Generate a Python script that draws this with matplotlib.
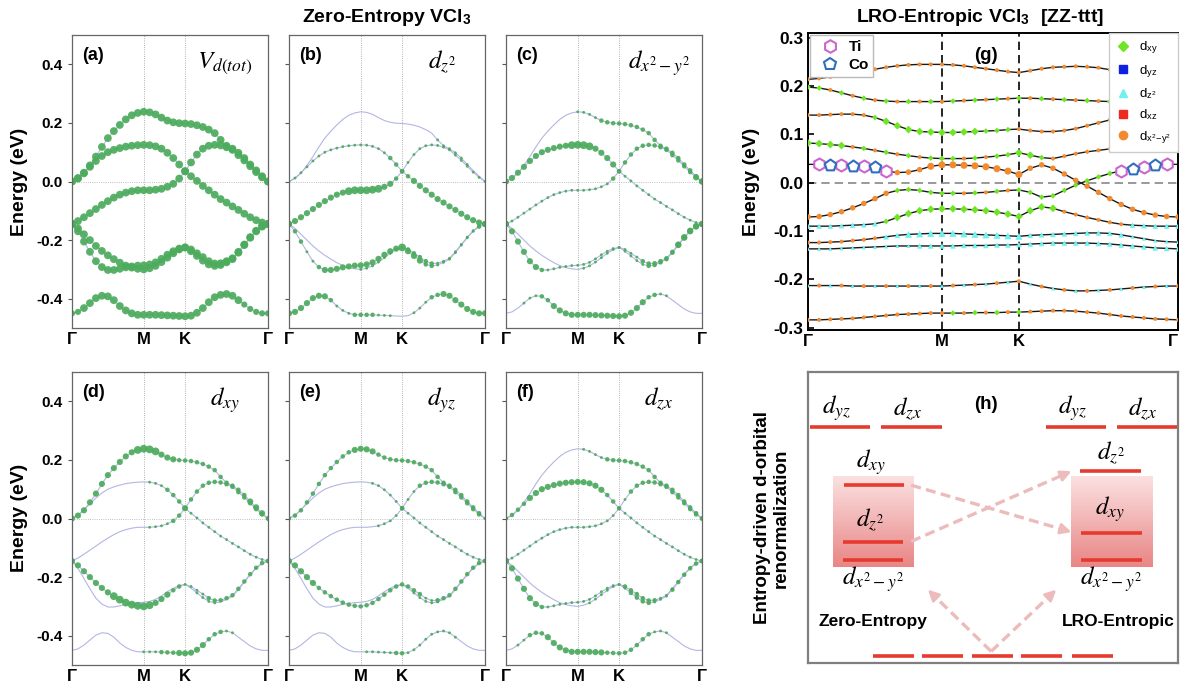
import numpy as np
import matplotlib
matplotlib.use('Agg')
import matplotlib.pyplot as plt
from matplotlib.lines import Line2D
from matplotlib.colors import LinearSegmentedColormap

plt.rcParams['font.family'] = ['Liberation Sans', 'DejaVu Sans']
plt.rcParams['mathtext.fontset'] = 'custom'
plt.rcParams['mathtext.rm'] = 'STIXGeneral'
plt.rcParams['mathtext.it'] = 'STIXGeneral:italic'
plt.rcParams['mathtext.bf'] = 'Liberation Sans:bold'

# ---------------- k path ----------------
K_LABELS = ['Γ', 'M', 'K', 'Γ']
M_POS, K_POS = 0.366, 0.577          # zero-entropy path (Γ-M-K-Γ, hexagonal)
M_POS_G, K_POS_G = 0.362, 0.570      # panel (g)


def kpath(m, kk):
    return np.concatenate([np.linspace(0, m, 13),
                           np.linspace(m, kk, 8)[1:],
                           np.linspace(kk, 1, 15)[1:]])


# ---------------- zero-entropy bands (eV), 13 Γ-M | 7 M-K | 14 K-Γ ----------------
band1 = [0.0, .010, .028, .055, .085, .118, .148, .172, .193, .212, .226, .234, .238,
         .236, .229, .218, .208, .202, .199, .198,
         .196, .192, .186, .177, .165, .142, .122, .112, .098, .080, .058, .038, .018, 0.0]
band2 = [0.0, .012, .030, .050, .070, .087, .100, .108, .114, .119, .122, .124, .125,
         .124, .120, .112, .098, .080, .058, .035,
         .065, .092, .112, .122, .125, .123, .117, .108, .090, .072, .052, .032, .014, 0.0]
band3 = [-.145, -.135, -.122, -.108, -.094, -.080, -.067, -.055, -.045, -.038, -.033, -.030, -.030,
         -.030, -.028, -.025, -.018, -.008, .010, .035,
         .018, .002, -.015, -.030, -.045, -.060, -.072, -.085, -.097, -.110, -.122, -.132, -.140, -.145]
band4 = [-.145, -.160, -.180, -.200, -.220, -.237, -.252, -.265, -.277, -.287, -.294, -.298, -.300,
         -.296, -.288, -.275, -.260, -.245, -.232, -.225,
         -.232, -.245, -.258, -.272, -.280, -.279, -.272, -.262, -.240, -.215, -.190, -.168, -.152, -.145]
band5 = [-.145, -.170, -.205, -.240, -.272, -.292, -.302, -.302, -.298, -.293, -.290, -.287, -.286,
         -.283, -.276, -.264, -.250, -.238, -.229, -.225,
         -.238, -.254, -.270, -.283, -.288, -.285, -.276, -.265, -.243, -.217, -.192, -.170, -.154, -.145]
band6 = [-.450, -.445, -.432, -.415, -.398, -.390, -.392, -.405, -.425, -.440, -.450, -.455, -.455,
         -.455, -.455, -.456, -.457, -.458, -.459, -.460,
         -.458, -.448, -.432, -.412, -.395, -.387, -.384, -.390, -.405, -.420, -.435, -.445, -.450, -.450]
BANDS = [band1, band2, band3, band4, band5, band6]

# orbital weights per band (0-4), Γ-M | M-K | K-Γ
W_DZ2 = ["0000000000000|0000000|00000111111000",
         "1111111111111|1111222|11111111111111",
         "3333333333444|4443322|23333333333333",
         "3000000000001|1111111|22222111111112",
         "3221123333333|3333334|33322111111123",
         "3333333211122|2211100|01112233333333"]
W_DX2Y2 = ["0000000000001|1112222|22222222222223",
           "3333333333344|4433332|22222222222233",
           "2111111111111|1111122|11111111111112",
           "3000000000000|1111111|11122222233333",
           "3333332111111|1111111|11112222233333",
           "0001112233333|3333333|33332211000000"]
W_DXY = ["3333333333344|4433322|22222222223332",
         "0000000000000|1112222|22222222222222",
         "0000000000000|1111223|11111111111112",
         "3333333444444|4333221|11122222222222",
         "2000000000000|0000000|01111000000001",
         "0000000000001|1122233|33322211000000"]
W_DYZ = ["2222222222233|3322222|22222222222221",
         "0000000000000|0111112|11222222222221",
         "0000000000000|0011112|11111111111112",
         "3333322222222|2222222|22211222222222",
         "2000000000000|0000000|01111100000000",
         "0000000000000|1111122|11111111100000"]
W_DZX = ["0000000000000|1111222|22222222222222",
         "2222333333333|3333222|12222222222222",
         "2111111111111|1111111|11111111111112",
         "3000000000000|0111111|22222211111112",
         "3333332111111|1111111|12222111222222",
         "0011222333333|3333222|22222111000000"]

# ---------------- LRO-entropic bands (eV) ----------------
g1 = [.214, .216, .219, .223, .227, .231, .235, .239, .242, .244, .245, .245, .245,
      .244, .242, .239, .236, .233, .230, .228,
      .232, .236, .239, .240, .241, .240, .238, .234, .229, .225, .220, .217, .215, .214]
g2 = [.198, .196, .192, .186, .180, .175, .171, .169, .168, .168, .168, .168, .168,
      .169, .170, .171, .172, .173, .174, .175,
      .175, .174, .173, .172, .171, .170, .169, .168, .168, .170, .174, .180, .188, .196]
g3 = [.140, .140, .141, .142, .142, .140, .135, .127, .118, .110, .106, .105, .104,
      .104, .105, .106, .107, .108, .110, .111,
      .108, .106, .106, .108, .112, .118, .124, .130, .135, .140, .143, .144, .143, .140]
g4 = [.082, .081, .079, .077, .074, .071, .067, .063, .059, .056, .053, .051, .050,
      .050, .050, .051, .053, .055, .058, .062,
      .057, .052, .050, .055, .060, .064, .067, .070, .073, .075, .077, .079, .080, .082]
g5 = [.038, .038, .037, .036, .035, .034, .032, .024, .021, .022, .027, .034, .037,
      .037, .036, .035, .033, .029, .024, .017,
      .030, .037, .030, .018, .005, -.007, -.020, -.033, -.045, -.055, -.062, -.067, -.070, -.071]
g6 = [-.071, -.070, -.066, -.060, -.052, -.043, -.033, -.022, -.016, -.014, -.016, -.020, -.022,
      -.022, -.022, -.021, -.020, -.018, -.016, -.015,
      -.020, -.030, -.027, -.016, -.005, .004, .012, .019, .025, .029, .033, .036, .038, .038]
g7 = [-.090, -.090, -.090, -.089, -.088, -.087, -.085, -.080, -.072, -.064, -.058, -.055, -.054,
      -.054, -.055, -.056, -.058, -.061, -.065, -.070,
      -.058, -.050, -.053, -.060, -.066, -.072, -.077, -.082, -.086, -.088, -.089, -.090, -.090, -.090]
g8 = [-.124, -.124, -.123, -.122, -.120, -.118, -.115, -.112, -.109, -.107, -.106, -.105, -.105,
      -.105, -.106, -.107, -.108, -.109, -.110, -.111,
      -.109, -.108, -.107, -.106, -.105, -.104, -.104, -.105, -.108, -.112, -.116, -.120, -.122, -.123]
g9 = [-.137, -.137, -.137, -.136, -.135, -.134, -.133, -.132, -.131, -.131, -.131, -.131, -.131,
      -.131, -.130, -.130, -.130, -.129, -.129, -.128,
      -.127, -.126, -.125, -.125, -.125, -.125, -.126, -.127, -.129, -.131, -.133, -.135, -.136, -.137]
g10 = [-.213, -.213, -.213, -.213, -.214, -.214, -.214, -.214, -.214, -.214, -.214, -.214, -.214,
       -.213, -.212, -.211, -.210, -.208, -.206, -.204,
       -.210, -.215, -.219, -.222, -.224, -.224, -.223, -.222, -.220, -.218, -.216, -.215, -.214, -.214]
g11 = [-.284, -.284, -.283, -.282, -.281, -.279, -.277, -.275, -.273, -.272, -.271, -.270, -.270,
       -.270, -.270, -.269, -.269, -.269, -.268, -.268,
       -.267, -.266, -.265, -.265, -.266, -.268, -.270, -.273, -.276, -.278, -.280, -.282, -.283, -.284]
G_BANDS = [g1, g2, g3, g4, g5, g6, g7, g8, g9, g10, g11]

# dominant orbital per point: o = dx2-y2, g = dxy, c = dz2 ; marker size class 0-3
G_CODES = ["ooooooooooooo|ooooooo|oooooooooooooo",
           "ggogogogogogo|gogogog|ogogogogogogog",
           "ooooooggggggg|ggggggo|oooooooooooooo",
           "ggggogogogogg|gogoggg|ggoooooooooooo",
           "ooooooooooooo|ooooooo|oooooooooooooo",
           "ooooooooggggg|gogogog|gggggggggggggg",
           "cccccccgggggg|ggggggg|gggooooooccccc",
           "ooooooocccccc|ccccccc|cccccccccccccc",
           "ccccccccccccc|ccccccc|cccccccccccccc",
           "cococococococ|ocococo|cococococococo",
           "ooooooooooooo|gogogog|oooooooooooooo"]
G_SIZES = ["1111111111111|1111111|11111111111111",
           "1111111111111|1111111|11111111111111",
           "1111111222222|2221111|11111111111111",
           "2222111111111|1111112|21111111111111",
           "0000000022233|3333333|22222222222222",
           "2222222211111|1111111|11111111000000",
           "2222222122222|2222222|22211111122222",
           "1111111223333|3333333|22222222211111",
           "1111111111222|2222222|22222222222222",
           "1111111111111|1111111|11111111111111",
           "1111111111111|1111111|11111111111111"]

# Ti / Co sites (k-point indices) on the bands near E_F
TI_LEFT, CO_LEFT = [1, 3, 5, 7], [2, 4, 6]
TI_RIGHT, CO_RIGHT = [28, 30, 32], [29, 31]

GREEN = '#4cab5c'
LINE = '#b3b6e4'
ORB_STYLE = {'g': ('D', '#6ee626'), 'o': ('o', '#f28a30'), 'c': ('^', '#70f0f0')}


def digits(s):
    return np.array([int(c) for c in s.replace('|', '')])


def letters(s):
    return np.array(list(s.replace('|', '')))


fig = plt.figure(figsize=(11.8, 6.85), dpi=100)


def px_axes(left, top, right, bottom):
    W, H = 1180, 685
    return fig.add_axes([left / W, 1 - bottom / H, (right - left) / W, (bottom - top) / H])


k = kpath(M_POS, K_POS)


def band_panel(ax, weights, tag, orb, ylabels):
    for band, w in zip(BANDS, weights):
        e = np.array(band)
        ax.plot(k, e, color=LINE, lw=0.8, zorder=1)
        m = w > 0
        d = (1.2 + 1.65 * w[m]) * 0.72
        ax.scatter(k[m], e[m], s=d ** 2, color=GREEN, alpha=0.92, lw=0, zorder=2)
    for x in (M_POS, K_POS):
        ax.axvline(x, color='#999999', lw=0.6, ls=':', zorder=0)
    ax.axhline(0, color='#aaaaaa', lw=0.6, ls=':', zorder=0)
    ax.set_xlim(0, 1)
    ax.set_ylim(-0.5, 0.5)
    ax.set_xticks([0, M_POS, K_POS, 1])
    ax.set_xticklabels(K_LABELS, fontsize=12, fontweight='bold')
    ax.tick_params(axis='x', length=0, pad=3)
    ax.set_yticks([-0.4, -0.2, 0.0, 0.2, 0.4])
    ax.tick_params(axis='y', length=3, width=0.8, color='#555555')
    if ylabels:
        ax.set_yticklabels(['-0.4', '-0.2', '0.0', '0.2', '0.4'], fontsize=11, fontweight='bold')
    else:
        ax.set_yticklabels([])
    for sp in ax.spines.values():
        sp.set_color('#666666')
        sp.set_linewidth(0.9)
    ax.text(0.05, 0.93, tag, transform=ax.transAxes, fontsize=13, fontweight='bold', va='center')
    ax.text(0.78, 0.905, orb, transform=ax.transAxes, fontsize=18, ha='center', va='center')


orbital_sets = [[digits(s) for s in W] for W in (W_DZ2, W_DX2Y2, W_DXY, W_DYZ, W_DZX)]
W_TOT = [np.clip(sum(ws[b] for ws in orbital_sets), 0, 4) for b in range(len(BANDS))]

panels = [
    ((72, 35, 268, 328), W_TOT, '(a)', r'$V_{d(tot)}$', True),
    ((289, 35, 485, 328), orbital_sets[0], '(b)', r'$d_{z^2}$', False),
    ((506, 35, 702, 328), orbital_sets[1], '(c)', r'$d_{x^2-y^2}$', False),
    ((72, 372, 268, 665), orbital_sets[2], '(d)', r'$d_{xy}$', True),
    ((289, 372, 485, 665), orbital_sets[3], '(e)', r'$d_{yz}$', False),
    ((506, 372, 702, 665), orbital_sets[4], '(f)', r'$d_{zx}$', False),
]
for box, ws, tag, orb, yl in panels:
    band_panel(px_axes(*box), ws, tag, orb, yl)

fig.text(20 / 1180, 1 - 182 / 685, 'Energy (eV)', rotation=90, ha='center', va='center',
         fontsize=14, fontweight='bold')
fig.text(20 / 1180, 1 - 518 / 685, 'Energy (eV)', rotation=90, ha='center', va='center',
         fontsize=14, fontweight='bold')
fig.text(387 / 1180, 1 - 17 / 685, r'Zero-Entropy VCl$_\mathbf{3}$', ha='center', va='center',
         fontsize=14, fontweight='bold')

# ---------------- panel (g) ----------------
axg = px_axes(808, 33, 1178, 330)
kg = kpath(M_POS_G, K_POS_G)
for band, cs, ss in zip(G_BANDS, G_CODES, G_SIZES):
    e = np.array(band)
    axg.plot(kg, e, color='#1a1a1a', lw=1.0, zorder=2)
    codes, sizes = letters(cs), digits(ss)
    for key, (mk, col) in ORB_STYLE.items():
        m = (codes == key) & (sizes > 0)
        d = (2.5 + 1.5 * sizes[m]) * 0.72
        axg.scatter(kg[m], e[m], s=d ** 2, marker=mk, color=col, lw=0, zorder=3)
e5, e6 = np.array(g5), np.array(g6)
ti_style = dict(marker='h', s=75, facecolor='white', edgecolor='#cc66cc', linewidth=1.5, zorder=4)
co_style = dict(marker='p', s=75, facecolor='white', edgecolor='#2f6fbf', linewidth=1.5, zorder=4)
axg.scatter(kg[TI_LEFT], e5[TI_LEFT], **ti_style)
axg.scatter(kg[CO_LEFT], e5[CO_LEFT], **co_style)
axg.scatter(kg[TI_RIGHT], e6[TI_RIGHT], **ti_style)
axg.scatter(kg[CO_RIGHT], e6[CO_RIGHT], **co_style)

for x in (M_POS_G, K_POS_G):
    axg.axvline(x, color='black', lw=1.2, ls=(0, (5, 3)), zorder=1)
axg.axhline(0, color='#888888', lw=1.2, ls=(0, (5, 3)), zorder=1)
axg.set_xlim(0, 1)
axg.set_ylim(-0.305, 0.31)
axg.set_xticks([0, M_POS_G, K_POS_G, 1])
axg.set_xticklabels(K_LABELS, fontsize=12, fontweight='bold')
axg.get_xticklabels()[-1].set_horizontalalignment('right')
axg.tick_params(axis='x', length=0, pad=3)
axg.set_yticks([-0.3, -0.2, -0.1, 0.0, 0.1, 0.2, 0.3])
axg.set_yticklabels(['-0.3', '-0.2', '-0.1', '0.0', '0.1', '0.2', '0.3'], fontsize=12.5, fontweight='bold')
axg.tick_params(axis='y', direction='in', length=4, width=1.2)
for sp in axg.spines.values():
    sp.set_linewidth(1.4)
axg.text(0.48, 0.91, '(g)', transform=axg.transAxes, fontsize=13.5, fontweight='bold', ha='center')
axg.set_ylabel('Energy (eV)', fontsize=14, fontweight='bold')
axg.yaxis.set_label_coords(-0.13, 0.5)

site_handles = [Line2D([], [], ls='', marker='h', ms=9, mfc='white', mec='#cc66cc', mew=1.5),
                Line2D([], [], ls='', marker='p', ms=9, mfc='white', mec='#2f6fbf', mew=1.5)]
leg1 = axg.legend(site_handles, ['Ti', 'Co'], loc='upper left', prop={'weight': 'bold', 'size': 11},
                  handletextpad=0.2, borderpad=0.3, labelspacing=0.3, borderaxespad=0.15,
                  fancybox=False, edgecolor='#bbbbbb', framealpha=1)
axg.add_artist(leg1)
orb_handles = [Line2D([], [], ls='', marker='D', ms=5, mfc='#6ee626', mec='#6ee626'),
               Line2D([], [], ls='', marker='s', ms=5.5, mfc='#1020e0', mec='#1020e0'),
               Line2D([], [], ls='', marker='^', ms=6, mfc='#70f0f0', mec='#70f0f0'),
               Line2D([], [], ls='', marker='s', ms=5.5, mfc='#ee2a20', mec='#ee2a20'),
               Line2D([], [], ls='', marker='o', ms=6, mfc='#f28a30', mec='#f28a30')]
orb_labels = [r'd$_{\mathregular{xy}}$', r'd$_{\mathregular{yz}}$', r'd$_{\mathregular{z^2}}$',
              r'd$_{\mathregular{xz}}$', r'd$_{\mathregular{x^2\!-\!y^2}}$']
axg.legend(orb_handles, orb_labels, loc='upper right', fontsize=9.5, handletextpad=0.6,
           borderpad=0.5, labelspacing=0.5, borderaxespad=0.0, fancybox=False,
           edgecolor='#cccccc', framealpha=1, handlelength=1.2)
fig.text(980 / 1180, 1 - 17 / 685, r'LRO-Entropic VCl$_\mathbf{3}$  [ZZ-ttt]', ha='center',
         va='center', fontsize=14, fontweight='bold')

# ---------------- panel (h): schematic ----------------
axh = px_axes(808, 372, 1178, 663)
axh.set_xlim(0, 1)
axh.set_ylim(0, 1)
axh.set_xticks([])
axh.set_yticks([])
for sp in axh.spines.values():
    sp.set_color('#7f7f7f')
    sp.set_linewidth(1.6)

RED = '#e63a2e'
PINK = '#ecbcbc'
grad = LinearSegmentedColormap.from_list('pk', ['#e98585', '#fbe1e1'])
ramp = np.linspace(0, 1, 128).reshape(-1, 1)
for x0, x1 in ((0.068, 0.286), (0.71, 0.931)):
    axh.imshow(ramp, cmap=grad, origin='lower', extent=(x0, x1, 0.33, 0.64), aspect='auto', zorder=0)


def level(x0, x1, y):
    axh.plot([x0, x1], [y, y], color=RED, lw=2.6, solid_capstyle='butt', zorder=2)


for x0, x1 in ((0.005, 0.168), (0.198, 0.362), (0.642, 0.806), (0.835, 1.0)):
    level(x0, x1, 0.811)
level(0.096, 0.26, 0.613)
level(0.094, 0.258, 0.416)
level(0.094, 0.258, 0.353)
level(0.736, 0.901, 0.661)
level(0.738, 0.902, 0.447)
level(0.738, 0.902, 0.353)
for x0, x1 in ((0.176, 0.286), (0.309, 0.419), (0.444, 0.554), (0.577, 0.687), (0.713, 0.823)):
    level(x0, x1, 0.023)

tx = dict(fontsize=18, ha='center', va='center')
axh.text(0.077, 0.876, r'$d_{yz}$', **tx)
axh.text(0.27, 0.872, r'$d_{zx}$', **tx)
axh.text(0.716, 0.876, r'$d_{yz}$', **tx)
axh.text(0.905, 0.872, r'$d_{zx}$', **tx)
axh.text(0.171, 0.69, r'$d_{xy}$', **tx)
axh.text(0.168, 0.49, r'$d_{z^2}$', **tx)
axh.text(0.176, 0.29, r'$d_{x^2-y^2}$', **tx)
axh.text(0.818, 0.722, r'$d_{z^2}$', **tx)
axh.text(0.815, 0.53, r'$d_{xy}$', **tx)
axh.text(0.82, 0.288, r'$d_{x^2-y^2}$', **tx)
axh.text(0.482, 0.889, '(h)', fontsize=13.5, fontweight='bold', ha='center', va='center')
axh.text(0.176, 0.143, 'Zero-Entropy', fontsize=12.5, fontweight='bold', ha='center', va='center')
axh.text(0.838, 0.143, 'LRO-Entropic', fontsize=12.5, fontweight='bold', ha='center', va='center')


def dashed_arrow(p0, p1):
    p0, p1 = np.array(p0), np.array(p1)
    tip = p0 + (p1 - p0) * 0.93
    axh.plot([p0[0], tip[0]], [p0[1], tip[1]], color=PINK, lw=2.4, ls=(0, (3, 1.6)), zorder=1)
    axh.annotate('', xy=p1, xytext=tip, arrowprops=dict(arrowstyle='-|>', color=PINK, lw=2.0,
                                                         mutation_scale=16, shrinkA=0, shrinkB=0))


dashed_arrow((0.279, 0.611), (0.712, 0.45))
dashed_arrow((0.279, 0.418), (0.712, 0.659))
dashed_arrow((0.495, 0.04), (0.324, 0.252))
dashed_arrow((0.495, 0.04), (0.671, 0.252))

fig.text(772 / 1180, 1 - 518 / 685, 'Entropy-driven d-orbital\nrenormalization', rotation=90,
         ha='center', va='center', fontsize=13.5, fontweight='bold', linespacing=1.1)

fig.savefig('out.png', dpi=100)
